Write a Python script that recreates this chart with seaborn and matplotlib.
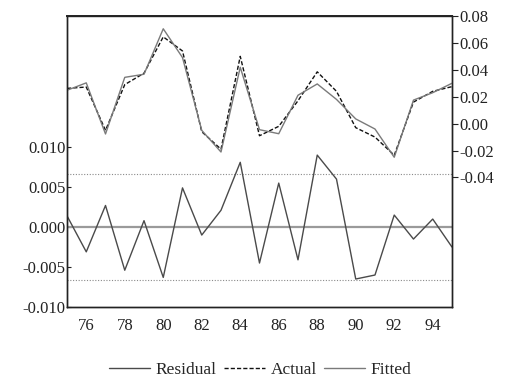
import matplotlib
matplotlib.use("Agg")
import matplotlib.pyplot as plt
import seaborn as sns
import numpy as np
import pandas as pd

years = list(range(1975, 1996))
residual = [0.0014, -0.0031, 0.0027, -0.0054, 0.0008, -0.0063, 0.0049, -0.0010, 0.0021, 0.0081,
            -0.0045, 0.0055, -0.0041, 0.0090, 0.0060, -0.0065, -0.0060, 0.0015, -0.0015, 0.0010, -0.0025]
actual = [0.0262, 0.0272, -0.0050, 0.0290, 0.0375, 0.0645, 0.0540, -0.0060, -0.0190, 0.0500,
          -0.0090, -0.0020, 0.0170, 0.0385, 0.0240, -0.0030, -0.0100, -0.0235, 0.0160, 0.0240, 0.0275]
fitted = [0.0248, 0.0303, -0.0077, 0.0344, 0.0367, 0.0705, 0.0491, -0.0050, -0.0211, 0.0419,
          -0.0045, -0.0075, 0.0211, 0.0295, 0.0180, 0.0035, -0.0040, -0.0250, 0.0175, 0.0230, 0.0300]
se_band = 0.0066
xtick_years = list(range(1976, 1995, 2))
xtick_labels = [f"{y % 100:02d}" for y in xtick_years]
left_ticks = [-0.010, -0.005, 0.000, 0.005, 0.010]
right_ticks = [-0.04, -0.02, 0.00, 0.02, 0.04, 0.06, 0.08]

df = pd.DataFrame({"year": years, "Residual": residual, "Actual": actual, "Fitted": fitted})

sns.set_style("white")
plt.rcParams["font.family"] = ["Liberation Serif", "DejaVu Serif"]

fig = plt.figure(figsize=(5.05, 3.8), dpi=100)
ax = fig.add_axes([0.1327, 0.1921, 0.7623, 0.7658])
ax2 = ax.twinx()

# residual panel (left axis)
ax.axhline(0, color="#9a9a9a", lw=1.6, zorder=1)
ax.axhline(se_band, color="#8a8a8a", lw=0.8, ls=(0, (1, 1.5)), zorder=1)
ax.axhline(-se_band, color="#8a8a8a", lw=0.8, ls=(0, (1, 1.5)), zorder=1)
sns.lineplot(data=df, x="year", y="Residual", ax=ax, color="#4a4a4a", lw=1.0, label="Residual")

# actual / fitted (right axis)
sns.lineplot(data=df, x="year", y="Actual", ax=ax2, color="#111111", lw=1.0,
             label="Actual", dashes=False)
ax2.lines[-1].set_linestyle((0, (3, 1.5)))
sns.lineplot(data=df, x="year", y="Fitted", ax=ax2, color="#7a7a7a", lw=1.0, label="Fitted")

ax.set_xlim(1975, 1995)
ax.set_ylim(-0.0100, 0.0264)
ax2.set_ylim(-0.1363, 0.0793)
ax.set_yticks(left_ticks)
ax.set_yticklabels([f"{v:.3f}" for v in left_ticks])
ax2.set_yticks(right_ticks)
ax2.set_yticklabels([f"{v:.2f}" for v in right_ticks])
ax.set_xticks(xtick_years)
ax.set_xticklabels(xtick_labels)
ax.set_xticks(years, minor=True)
ax.set_xlabel("")
ax.set_ylabel("")
ax2.set_ylabel("")

ax.tick_params(axis="x", which="both", direction="in", length=3, width=0.8, labelsize=12, pad=8, colors="#222222")
ax.tick_params(axis="y", direction="in", length=3, width=0.8, labelsize=12, pad=1, colors="#222222")
ax2.tick_params(axis="y", direction="out", length=4, width=0.8, labelsize=12, pad=1, colors="#222222")

for a in (ax, ax2):
    for s in a.spines.values():
        s.set_color("#222222")
        s.set_linewidth(1.0)
ax2.spines["top"].set_linewidth(1.4)

h1, l1 = ax.get_legend_handles_labels()
h2, l2 = ax2.get_legend_handles_labels()
ax.get_legend().remove()
ax2.get_legend().remove()
fig.legend(h1 + h2, l1 + l2, loc="center", bbox_to_anchor=(0.515, 0.027), ncol=3,
           frameon=False, fontsize=12.5, handlelength=2.4, handletextpad=0.3, columnspacing=0.4)

fig.savefig("out.png", dpi=100)
